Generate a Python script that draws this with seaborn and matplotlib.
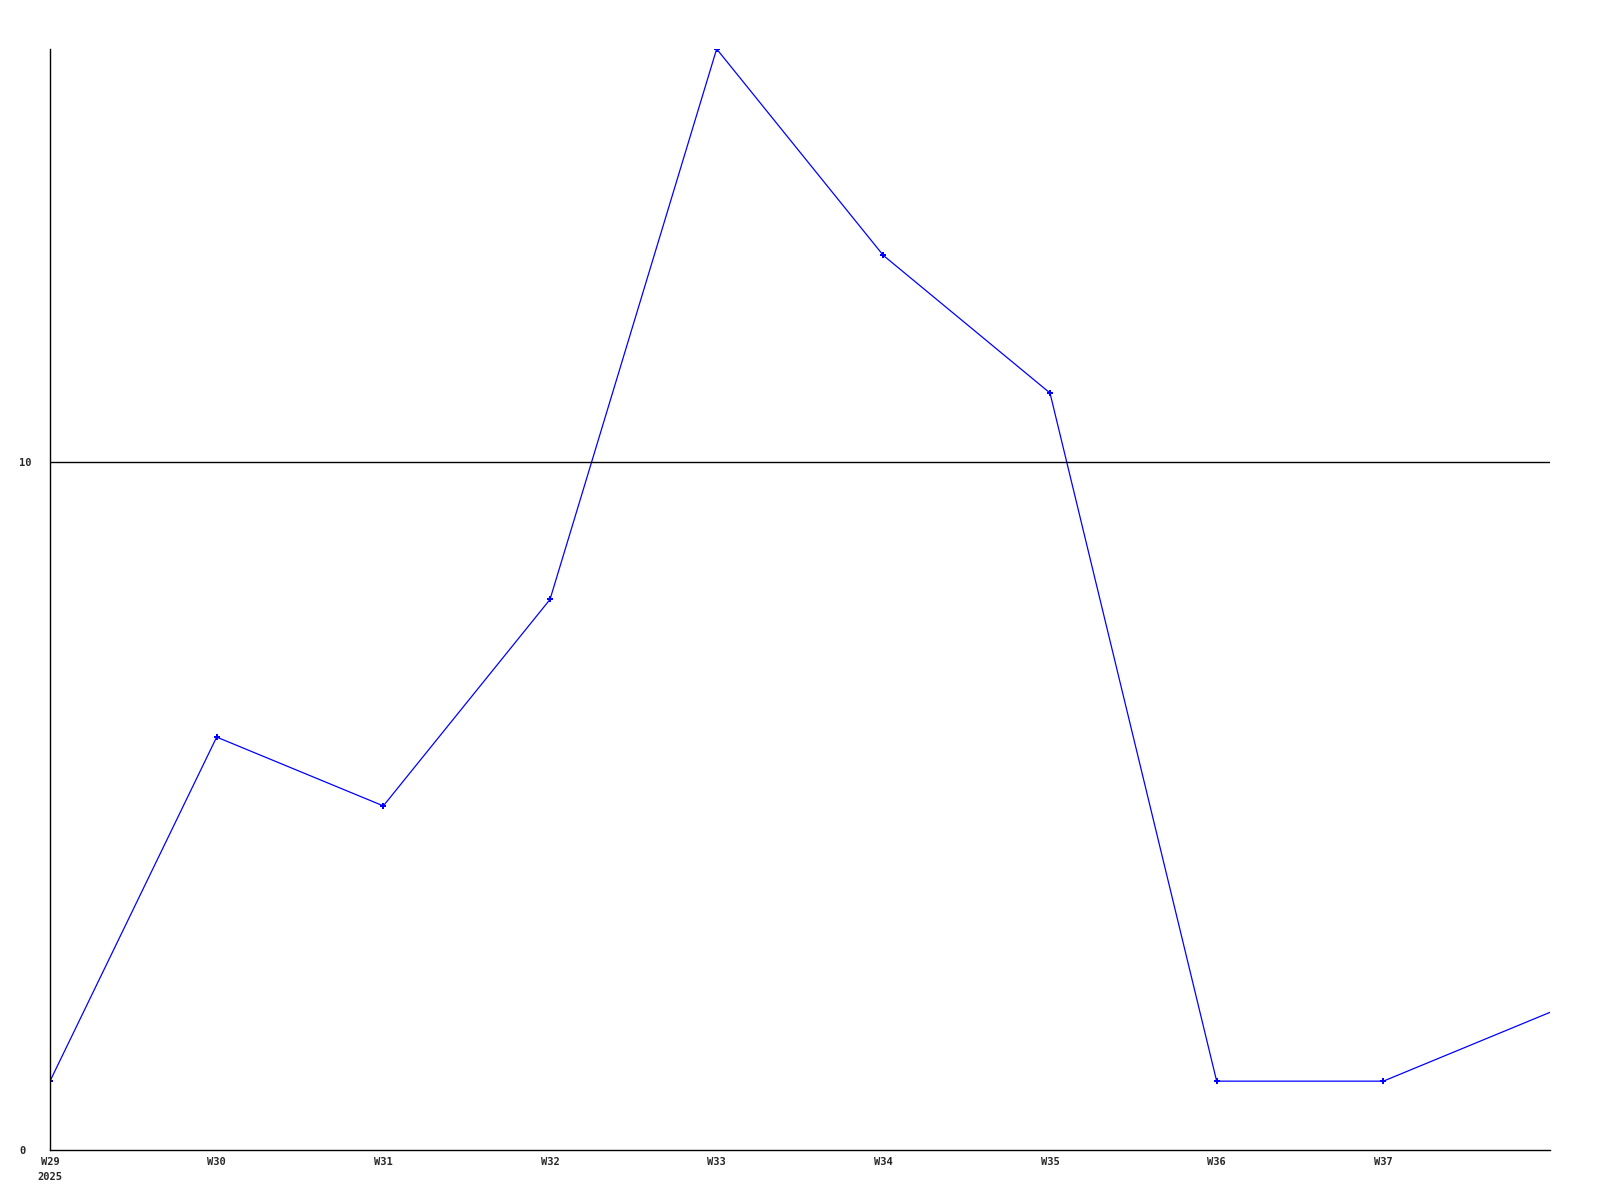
import matplotlib
matplotlib.use('Agg')
import matplotlib.pyplot as plt
import seaborn as sns
import pandas as pd

weeks = ['W29', 'W30', 'W31', 'W32', 'W33', 'W34', 'W35', 'W36', 'W37', 'W38']
counts = [1, 6, 5, 8, 16, 13, 11, 1, 1, 2]
tick_labels = ['W29\n2025', 'W30', 'W31', 'W32', 'W33', 'W34', 'W35', 'W36', 'W37']

df = pd.DataFrame({'pos': range(len(weeks)), 'week': weeks, 'count': counts})

sns.set_style('white')
plt.rcParams['font.family'] = ['DejaVu Sans Mono']

fig = plt.figure(figsize=(16, 12), dpi=100)
ax = fig.add_axes([0.03125, 0.0417, 0.9375, 0.9175])

# last week runs off the right edge, no marker there
sns.lineplot(data=df, x='pos', y='count', color='#0000ff', linewidth=0.9,
             marker='P', markersize=4, markeredgewidth=0,
             markevery=list(range(len(weeks) - 1)), ax=ax)
ax.axhline(10, color='black', linewidth=1)

ax.set_xlim(0, len(weeks) - 1)
ax.set_ylim(0, 16)
ax.set_xticks(range(len(tick_labels)))
ax.set_xticklabels(tick_labels, fontsize=7.5, fontweight='bold', va='top', linespacing=1.6)
ax.set_yticks([0, 10])
ax.set_yticklabels(['0', '10'], fontsize=7.5, fontweight='bold', ha='left')
ax.tick_params(axis='both', length=0)
ax.tick_params(axis='y', pad=22)
ax.tick_params(axis='x', pad=5)
ax.set_xlabel('')
ax.set_ylabel('')

for side in ['top', 'right']:
    ax.spines[side].set_visible(False)
for side in ['left', 'bottom']:
    ax.spines[side].set_color('black')
    ax.spines[side].set_linewidth(1)

fig.savefig('out.png', dpi=100)
